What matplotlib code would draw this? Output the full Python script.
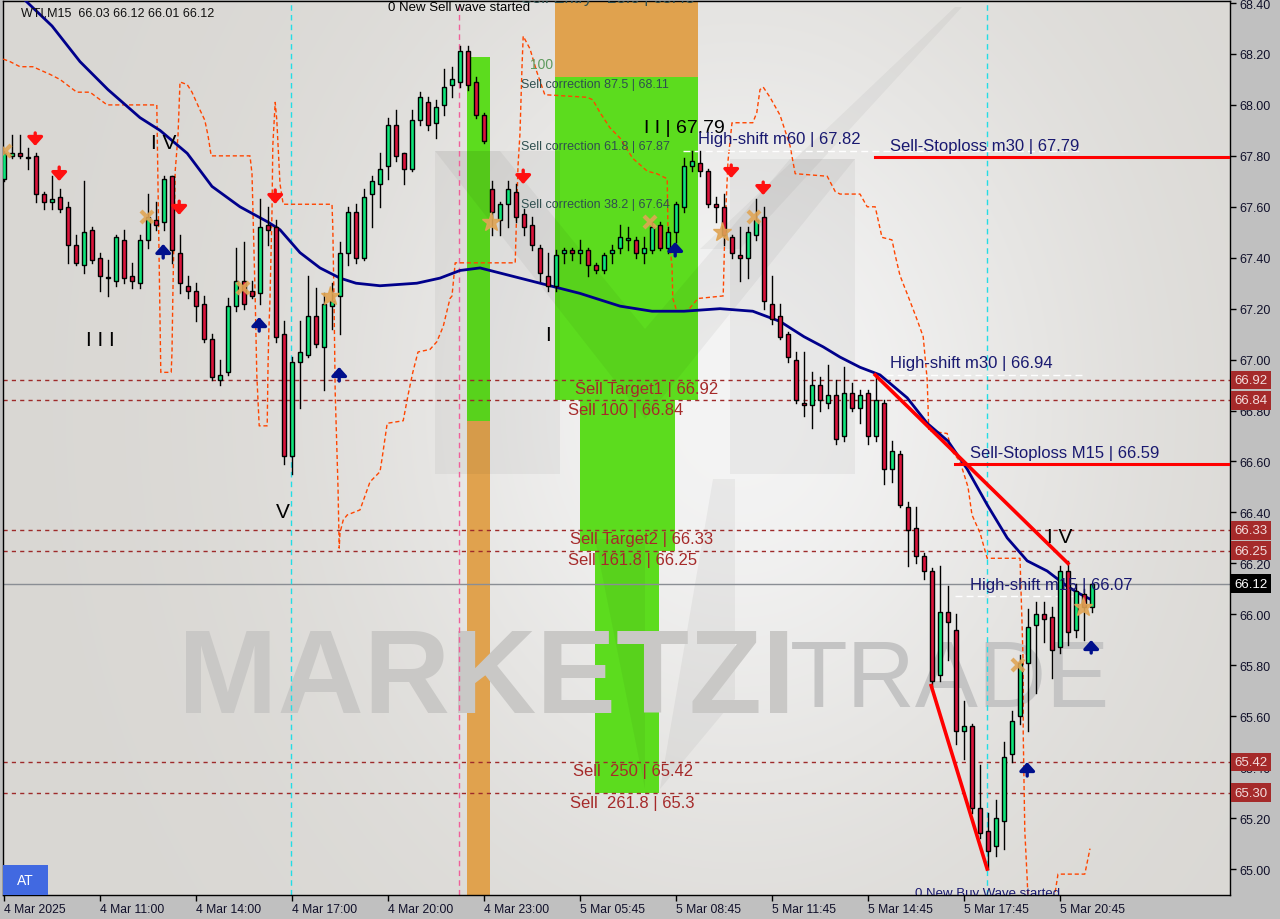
import numpy as np
import matplotlib
matplotlib.use('Agg')
import matplotlib.pyplot as plt
from matplotlib.patches import Rectangle, Polygon
import matplotlib.transforms as mtransforms

# ---------------- data ----------------
opens = [67.71, 67.80, 67.81, 67.79, 67.80, 67.65, 67.62, 67.64, 67.60, 67.45,
         67.37, 67.51, 67.40, 67.32, 67.31, 67.47, 67.33, 67.30, 67.47, 67.55,
         67.54, 67.72, 67.42, 67.29, 67.27, 67.22, 67.08, 66.92, 66.95, 67.21,
         67.31, 67.27, 67.26, 67.53, 67.52, 67.10, 66.62, 66.99, 67.02, 67.17,
         67.05, 67.21, 67.25, 67.42, 67.58, 67.40, 67.65, 67.69, 67.76, 67.92,
         67.81, 67.75, 67.94, 68.01, 67.93, 68.00, 68.08, 68.09, 68.21, 68.09,
         67.96, 67.67, 67.55, 67.61, 67.66, 67.57, 67.53, 67.44, 67.33, 67.29,
         67.42, 67.43, 67.42, 67.43, 67.37, 67.35, 67.42, 67.44, 67.47, 67.47,
         67.42, 67.43, 67.53, 67.44, 67.50, 67.60, 67.76, 67.77, 67.74, 67.61,
         67.60, 67.48, 67.41, 67.40, 67.49, 67.56, 67.22, 67.17, 67.10, 67.00,
         66.83, 66.82, 66.90, 66.83, 66.86, 66.70, 66.87, 66.81, 66.87, 66.70,
         66.83, 66.57, 66.63, 66.42, 66.34, 66.23, 66.17, 65.76, 66.01, 65.94,
         65.54, 65.56, 65.24, 65.15, 65.09, 65.19, 65.45, 65.60, 65.81, 65.96,
         66.00, 65.99, 65.87, 66.17, 65.94, 66.08, 66.03]
highs = [67.82, 67.88, 67.88, 67.83, 67.81, 67.66, 67.72, 67.67, 67.62, 67.49,
         67.70, 67.52, 67.42, 67.39, 67.49, 67.51, 67.38, 67.49, 67.65, 67.62,
         67.72, 67.72, 67.49, 67.33, 67.30, 67.25, 67.10, 67.00, 67.24, 67.44,
         67.46, 67.31, 67.63, 67.60, 67.55, 67.15, 67.01, 67.15, 67.33, 67.28,
         67.26, 67.30, 67.46, 67.60, 67.61, 67.67, 67.72, 67.81, 67.95, 67.98,
         67.81, 67.98, 68.05, 68.03, 68.02, 68.14, 68.15, 68.23, 68.23, 68.11,
         67.97, 67.70, 67.62, 67.70, 67.69, 67.59, 67.56, 67.45, 67.42, 67.43,
         67.44, 67.44, 67.47, 67.44, 67.38, 67.42, 67.45, 67.53, 67.52, 67.48,
         67.48, 67.54, 67.54, 67.52, 67.62, 67.79, 67.82, 67.82, 67.75, 67.64,
         67.65, 67.49, 67.52, 67.52, 67.63, 67.60, 67.33, 67.22, 67.11, 67.03,
         67.03, 66.95, 66.93, 66.98, 66.92, 66.97, 66.91, 66.88, 66.88, 66.94,
         66.84, 66.68, 66.64, 66.44, 66.42, 66.24, 66.18, 66.19, 66.11, 66.00,
         65.66, 65.57, 65.41, 65.22, 65.27, 65.50, 65.62, 65.84, 66.02, 66.05,
         66.05, 66.03, 66.19, 66.21, 66.12, 66.10, 66.12]
lows = [67.70, 67.79, 67.79, 67.75, 67.62, 67.59, 67.59, 67.58, 67.38, 67.37,
        67.34, 67.38, 67.27, 67.25, 67.29, 67.30, 67.28, 67.28, 67.44, 67.51,
        67.51, 67.38, 67.26, 67.24, 67.15, 67.07, 66.92, 66.90, 66.94, 67.19,
        67.20, 67.24, 67.22, 67.45, 67.07, 66.59, 66.55, 66.81, 67.01, 67.05,
        66.88, 67.12, 67.10, 67.37, 67.38, 67.39, 67.52, 67.60, 67.71, 67.78,
        67.69, 67.74, 67.92, 67.90, 67.87, 67.96, 68.03, 68.07, 68.06, 67.95,
        67.85, 67.49, 67.49, 67.52, 67.54, 67.49, 67.43, 67.31, 67.27, 67.27,
        67.38, 67.39, 67.38, 67.33, 67.34, 67.34, 67.38, 67.42, 67.43, 67.40,
        67.38, 67.42, 67.43, 67.42, 67.46, 67.58, 67.74, 67.72, 67.60, 67.54,
        67.45, 67.40, 67.31, 67.32, 67.47, 67.20, 67.14, 67.08, 66.99, 66.83,
        66.78, 66.73, 66.80, 66.81, 66.67, 66.68, 66.80, 66.75, 66.67, 66.68,
        66.51, 66.52, 66.42, 66.19, 66.20, 66.14, 65.72, 65.74, 65.82, 65.49,
        65.43, 65.22, 65.12, 65.00, 65.05, 65.08, 65.42, 65.57, 65.54, 65.69,
        65.89, 65.75, 65.85, 65.88, 65.91, 65.90, 66.01]
closes = [67.81, 67.81, 67.80, 67.79, 67.65, 67.62, 67.63, 67.59, 67.45, 67.38,
          67.50, 67.39, 67.33, 67.32, 67.48, 67.32, 67.31, 67.47, 67.56, 67.53,
          67.71, 67.43, 67.30, 67.27, 67.21, 67.08, 66.93, 66.94, 67.21, 67.31,
          67.22, 67.25, 67.52, 67.51, 67.09, 66.62, 66.99, 67.03, 67.17, 67.06,
          67.22, 67.23, 67.42, 67.58, 67.40, 67.64, 67.70, 67.75, 67.92, 67.80,
          67.75, 67.94, 68.03, 67.92, 67.99, 68.07, 68.10, 68.21, 68.08, 67.96,
          67.86, 67.58, 67.61, 67.67, 67.56, 67.52, 67.45, 67.34, 67.29, 67.41,
          67.43, 67.42, 67.43, 67.37, 67.35, 67.41, 67.43, 67.48, 67.47, 67.42,
          67.44, 67.52, 67.44, 67.50, 67.61, 67.76, 67.78, 67.74, 67.61, 67.60,
          67.49, 67.42, 67.40, 67.50, 67.55, 67.23, 67.16, 67.09, 67.01, 66.84,
          66.82, 66.90, 66.84, 66.86, 66.69, 66.87, 66.81, 66.86, 66.70, 66.84,
          66.57, 66.64, 66.43, 66.33, 66.23, 66.17, 65.74, 66.01, 65.97, 65.54,
          65.56, 65.24, 65.14, 65.07, 65.20, 65.44, 65.58, 65.81, 65.95, 66.00,
          65.98, 65.86, 66.17, 65.93, 66.09, 66.03, 66.12]

time_tick_bars = [0, 12, 24, 36, 48, 60, 72, 84, 96, 108, 120, 132]
time_tick_labels = ["4 Mar 2025", "4 Mar 11:00", "4 Mar 14:00", "4 Mar 17:00",
                    "4 Mar 20:00", "4 Mar 23:00", "5 Mar 05:45", "5 Mar 08:45",
                    "5 Mar 11:45", "5 Mar 14:45", "5 Mar 17:45", "5 Mar 20:45"]
price_ticks = [65.00, 65.20, 65.40, 65.60, 65.80, 66.00, 66.20, 66.40, 66.60,
               66.80, 67.00, 67.20, 67.40, 67.60, 67.80, 68.00, 68.20, 68.40]

ma_bars = [0, 3, 6, 9.5, 13, 17, 19.5, 22.9, 26, 29.5, 33, 34.5, 37, 39.5, 42, 44,
           47, 51.6, 54.5, 57, 59.5, 62, 64.5, 67, 69.5, 72, 74, 77, 81, 85, 89.5,
           93.6, 97, 100, 102.4, 104.5, 107, 109.5, 112.9, 115.4, 118, 120.4,
           122.9, 125.4, 127.9, 130.4, 132.9, 134.5, 135.75]
ma_prices = [68.49, 68.40, 68.31, 68.17, 68.06, 67.95, 67.90, 67.81, 67.68, 67.60,
             67.54, 67.51, 67.42, 67.36, 67.32, 67.30, 67.29, 67.30, 67.32, 67.35,
             67.36, 67.34, 67.32, 67.30, 67.28, 67.26, 67.24, 67.21, 67.19, 67.19,
             67.20, 67.19, 67.15, 67.09, 67.05, 67.01, 66.97, 66.94, 66.85, 66.75,
             66.68, 66.57, 66.43, 66.30, 66.21, 66.17, 66.11, 66.08, 66.06]

orange_bars = [-0.1, 0.75, 2, 3.6, 5.75, 7, 8.25, 9.1, 10.75, 11.6, 12.9, 19.1,
               19.6, 20.9, 21.0, 21.1, 21.4, 21.75, 22, 22.9, 23.5, 24.5, 25.1,
               25.5, 25.9, 30.75, 31, 31.4, 31.6, 31.9, 32.9, 33, 33.1, 33.25,
               33.5, 33.6, 33.9, 34.1, 34.5, 34.9, 41, 41.1, 41.25, 41.4, 41.75,
               41.9, 42, 42.4, 42.9, 44.5, 45.75, 47, 47.25, 47.9, 49.9, 50.5,
               51.1, 51.75, 53.25, 54.1, 54.9, 55.75, 56, 56.4, 63.9, 64.25, 64.5,
               64.75, 64.9, 65.75, 66.6, 67.6, 72.9, 73.6, 74.5, 75.75, 77, 78.6,
               80.4, 81.6, 82.9, 83, 83.5, 83.6, 84.1, 85.4, 86.75, 89.9, 90.1,
               90.5, 91, 93.6, 94.1, 94.5, 94.9, 95.75, 97, 98.25, 98.9, 102.9,
               103.9, 104.5, 107, 107.9, 108.9, 109.75, 111, 111.4, 112, 113,
               114.1, 114.9, 115.4, 115.6, 117.9, 118.5, 119.5, 120.5, 121, 122,
               122.9, 127, 127.25, 127.4, 127.4, 127.6, 127.9, 128,
               np.nan, 131.4, 131.75, 135.1, 135.75]
orange_prices = [68.18, 68.17, 68.15, 68.15, 68.12, 68.10, 68.07, 68.05, 68.05,
                 68.03, 68.00, 68.00, 66.95, 66.95, 67.03, 67.24, 67.74, 67.88,
                 68.09, 68.08, 68.05, 67.98, 67.94, 67.88, 67.80, 67.80, 67.73,
                 67.24, 66.94, 66.74, 66.74, 66.97, 67.11, 67.24, 67.58, 67.84,
                 68.01, 67.94, 67.69, 67.61, 67.61, 67.52, 67.24, 66.87, 66.50,
                 66.26, 66.32, 66.37, 66.39, 66.41, 66.52, 66.56, 66.61, 66.75,
                 66.76, 66.86, 66.95, 67.03, 67.04, 67.07, 67.13, 67.24, 67.25,
                 67.38, 67.38, 67.76, 67.89, 68.15, 68.27, 68.22, 68.13, 68.04,
                 68.03, 68.02, 67.97, 67.91, 67.87, 67.79, 67.74, 67.73, 67.71,
                 67.50, 67.37, 67.24, 67.19, 67.19, 67.24, 67.25, 67.50, 67.78,
                 67.93, 67.93, 67.97, 68.06, 68.07, 68.03, 67.96, 67.84, 67.73,
                 67.72, 67.66, 67.65, 67.65, 67.60, 67.60, 67.48, 67.47, 67.41,
                 67.33, 67.25, 67.16, 67.09, 66.92, 66.72, 66.71, 66.64, 66.60,
                 66.50, 66.39, 66.32, 66.22, 66.22, 65.97, 65.80, 65.54, 65.15,
                 64.96, 64.88, np.nan, 64.91, 64.98, 64.98, 65.08]

level_prices = [66.92, 66.84, 66.33, 66.25, 65.42, 65.30]
level_labels = ["66.92", "66.84", "66.33", "66.25", "65.42", "65.30"]
current_price = 66.12

# zones: (bar_left, bar_right, price_low, price_high)
green_zones = [(57.9, 60.75, 66.76, 68.19), (68.9, 86.75, 66.84, 68.11),
               (72.0, 83.9, 66.25, 66.84), (73.9, 81.9, 65.30, 66.25)]
orange_zones = [(57.9, 60.75, 64.80, 66.76), (68.9, 86.75, 68.11, 68.60)]

red_arrow_bars = [3.9, 6.9, 21.9, 33.9, 64.9, 90.9, 94.9]
red_arrow_top = [67.89, 67.756, 67.622, 67.666, 67.744, 67.764, 67.697]
red_arrow_tip = [67.839, 67.701, 67.568, 67.611, 67.689, 67.713, 67.646]
blue_arrow_bars = [19.9, 31.9, 41.9, 83.9, 127.9, 135.9]
blue_arrow_tip = [67.454, 67.167, 66.971, 67.462, 65.420, 65.899]
blue_arrow_tail = [67.399, 67.112, 66.916, 67.407, 65.365, 65.848]

star_bars = [0.1, 17.9, 29.9, 40.75, 60.9, 80.75, 89.75, 93.75, 126.75, 134.9]
star_prices = [67.82, 67.56, 67.28, 67.25, 67.54, 67.54, 67.50, 67.56, 65.80, 66.03]
star_kind = ['x', 'x', 'x', '*', '*', 'x', '*', 'x', 'x', '*']

# ---------------- figure ----------------
BG = '#c0c0c0'
fig = plt.figure(figsize=(12.8, 9.2), dpi=100, facecolor=BG)
ax = fig.add_axes([3/1280, 24/920, 1227/1280, 894/920])
XL = (-0.125, 153.25)
YL = (64.898, 68.408)

# background gradient
gx = np.linspace(0, 1, 300)
gy = np.linspace(0, 1, 220)
GX, GY = np.meshgrid(gx, gy)
bump = np.exp(-(((GX - 0.60) / 0.30) ** 2 + ((GY - 0.55) / 0.50) ** 2))
base = np.array([217, 215, 211]) / 255.0
light = np.array([244, 244, 244]) / 255.0
img = base[None, None, :] + (light - base)[None, None, :] * bump[:, :, None]
ax.imshow(img, extent=[XL[0], XL[1], YL[0], YL[1]], origin='lower',
          aspect='auto', zorder=0, interpolation='bilinear')

# zones
for (b0, b1, p0, p1) in green_zones:
    ax.add_patch(Rectangle((b0, p0), b1 - b0, p1 - p0, facecolor='#5cdc1e',
                           edgecolor='none', zorder=1))
for (b0, b1, p0, p1) in orange_zones:
    ax.add_patch(Rectangle((b0, p0), b1 - b0, p1 - p0, facecolor='#e0a24e',
                           edgecolor='none', zorder=1))

# logo watermark (decorative, axes fraction)
def axpt(px, py):
    return ((px - 3) / 1227.0, (896 - py) / 894.0)

logo_shapes = [
    [(435, 152), (560, 152), (560, 475), (435, 475)],
    [(730, 160), (855, 160), (855, 475), (730, 475)],
    [(435, 152), (500, 152), (645, 330), (790, 160), (855, 160), (645, 420)],
    [(595, 540), (645, 540), (645, 790)],
    [(713, 480), (735, 480), (735, 700), (660, 790)],
]
for shp in logo_shapes:
    ax.add_patch(Polygon([axpt(*p) for p in shp], closed=True, facecolor='black',
                         alpha=0.045, edgecolor='none', transform=ax.transAxes,
                         zorder=1.5))
ax.add_patch(Polygon([axpt(*p) for p in [(955, 8), (700, 250), (740, 250), (962, 8)]],
                     closed=True, facecolor='black', alpha=0.04, edgecolor='none',
                     transform=ax.transAxes, zorder=1.5))

# watermark text
ax.text(0.1426, 0.239, "MARKETZI", transform=ax.transAxes, fontsize=86,
        family='Liberation Sans', fontweight='bold', color='#c9c8c6',
        va='center', ha='left', zorder=1.6)
ax.text(0.641, 0.239, "TRADE", transform=ax.transAxes, fontsize=68,
        family=['Liberation Sans Narrow', 'Liberation Sans'], fontweight='normal',
        color='#c4c4c4', va='center', ha='left', zorder=1.6)

# horizontal dashed levels
for p in level_prices:
    ax.axhline(p, color='#9e2a2a', lw=1.0, ls=(0, (3, 3)), zorder=2)
ax.axhline(current_price, color='#8a8e94', lw=1.0, zorder=2)

# vertical separators
ax.axvline(35.9, color='#22dde6', lw=1.0, ls=(0, (4, 3)), zorder=2)
ax.axvline(122.9, color='#22dde6', lw=1.0, ls=(0, (4, 3)), zorder=2)
ax.axvline(56.9, color='#f0609a', lw=1.0, ls=(0, (4, 3)), zorder=2)

# orange dashed trailing line
ax.plot(orange_bars, orange_prices, color='#ff4500', lw=1.0, ls=(0, (3, 2)), zorder=3)

# white dashed high-shift lines
ax.plot([84.9, 134.75], [67.82, 67.82], color='white', lw=1.0, ls=(0, (5, 3)), zorder=3)
ax.plot([108.9, 134.75], [66.94, 66.94], color='white', lw=1.0, ls=(0, (5, 3)), zorder=3)
ax.plot([118.9, 133.6], [66.07, 66.07], color='white', lw=1.0, ls=(0, (5, 3)), zorder=3)

# moving average
ax.plot(ma_bars, ma_prices, color='#00008b', lw=2.0, zorder=4)

# candles
w = 0.62
for i, (o, h, l, c) in enumerate(zip(opens, highs, lows, closes)):
    ax.plot([i, i], [l, h], color='black', lw=1.0, zorder=5)
    col = '#0fe67a' if c >= o else '#dc143c'
    lo, hi = min(o, c), max(o, c)
    if hi - lo < 0.006:
        hi = lo + 0.006
    ax.add_patch(Rectangle((i - w / 2, lo), w, hi - lo, facecolor=col,
                           edgecolor='black', lw=1.0, zorder=6))

# red stoploss lines and trend lines
ax.plot([108.9, XL[1]], [67.795, 67.795], color='red', lw=2.2, zorder=7)
ax.plot([118.9, XL[1]], [66.59, 66.59], color='red', lw=2.2, zorder=7)
ax.plot([108.9, 133.0], [66.94, 66.20], color='red', lw=2.6, zorder=7)
ax.plot([115.9, 122.9], [65.72, 65.00], color='red', lw=2.6, zorder=7)

# arrows
for b, t, p in zip(red_arrow_bars, red_arrow_top, red_arrow_tip):
    ax.annotate('', xy=(b, p), xytext=(b, t),
                arrowprops=dict(arrowstyle='-|>,head_width=0.45,head_length=0.5',
                                color='#ff1010', lw=2.4, shrinkA=0, shrinkB=0,
                                mutation_scale=10), zorder=8)
for b, p, t in zip(blue_arrow_bars, blue_arrow_tip, blue_arrow_tail):
    ax.annotate('', xy=(b, p), xytext=(b, t),
                arrowprops=dict(arrowstyle='-|>,head_width=0.45,head_length=0.5',
                                color='#00108c', lw=2.4, shrinkA=0, shrinkB=0,
                                mutation_scale=10), zorder=8)

# stars / crosses
for b, p, k in zip(star_bars, star_prices, star_kind):
    if k == '*':
        ax.plot(b, p, marker='*', ms=14, color='#e0a555', mec='#e0a555',
                alpha=0.9, zorder=8)
    else:
        ax.plot(b, p, marker='x', ms=9, mew=3, color='#e0a555', alpha=0.9, zorder=8)

# ---------------- texts ----------------
F = 'Liberation Sans'
ax.text(0.015, 0.987, "WTI,M15  66.03 66.12 66.01 66.12", transform=ax.transAxes,
        fontsize=9, family=F, color='#111111', va='center', ha='left', zorder=9)
ax.text(48.0, 68.385, "0 New Sell wave started", fontsize=9.5, family=F,
        color='black', va='center', ha='left', zorder=9)
ax.text(64.6, 68.42, "Sell Entry - 23.6 | 68.48", fontsize=12, family=F,
        color='#2f4f4f', va='center', ha='left', zorder=9, clip_on=True)
ax.text(65.75, 68.16, "100", fontsize=10, family=F, color='#5e9a5e',
        va='center', ha='left', zorder=9)
for txt, p in [("Sell correction 87.5 | 68.11", 68.082),
               ("Sell correction 61.8 | 67.87", 67.839),
               ("Sell correction 38.2 | 67.64", 67.611)]:
    ax.text(64.6, p, txt, fontsize=9, family=F, color='#2f4f4f',
            va='center', ha='left', zorder=9)
ax.text(80.0, 67.913, "I I | 67.79", fontsize=14, family=F, color='black',
        va='center', ha='left', zorder=9)
navy = '#191970'
ax.text(86.75, 67.87, "High-shift m60 | 67.82", fontsize=12, family=F, color=navy,
        va='center', ha='left', zorder=9)
ax.text(110.75, 67.839, "Sell-Stoploss m30 | 67.79", fontsize=12, family=F, color=navy,
        va='center', ha='left', zorder=9)
ax.text(110.75, 66.987, "High-shift m30 | 66.94", fontsize=12, family=F, color=navy,
        va='center', ha='left', zorder=9)
ax.text(120.75, 66.637, "Sell-Stoploss M15 | 66.59", fontsize=12, family=F, color=navy,
        va='center', ha='left', zorder=9)
ax.text(120.75, 66.119, "High-shift m15 | 66.07", fontsize=12, family=F, color=navy,
        va='center', ha='left', zorder=9)
ax.text(113.9, 64.905, "0 New Buy Wave started", fontsize=9.5, family=F, color=navy,
        va='center', ha='left', zorder=9, clip_on=True)

for txt, b, p in [("I V", 20.0, 67.854), ("I I I", 12.0, 67.08), ("V", 34.9, 66.405),
                  ("I", 68.0, 67.10), ("I V", 131.9, 66.307)]:
    ax.text(b, p, txt, fontsize=15, family=F, color='black', va='center',
            ha='center', zorder=9)

brown = '#a52a2a'
for txt, b, p in [("Sell Target1 | 66.92", 71.4, 66.888),
                  ("Sell 100 | 66.84", 70.5, 66.806),
                  ("Sell Target2 | 66.33", 70.75, 66.296),
                  ("Sell 161.8 | 66.25", 70.5, 66.217),
                  ("Sell  250 | 65.42", 71.1, 65.385),
                  ("Sell  261.8 | 65.3", 70.75, 65.263)]:
    ax.text(b, p, txt, fontsize=12, family=F, color=brown, va='center',
            ha='left', zorder=9)

# AT box
ax.add_patch(Rectangle((0, 0), 45 / 1227, 30 / 894, transform=ax.transAxes,
                       facecolor='#4169e1', edgecolor='none', zorder=9))
ax.text(22 / 1227, 15 / 894, "AT", transform=ax.transAxes, fontsize=10, family=F,
        color='white', va='center', ha='center', zorder=10)

# ---------------- axes ----------------
ax.set_xlim(*XL)
ax.set_ylim(*YL)
ax.yaxis.tick_right()
ax.set_yticks(price_ticks)
ax.set_yticklabels([f"{p:.2f}" for p in price_ticks])
ax.set_xticks(time_tick_bars)
ax.set_xticklabels(time_tick_labels)
for lab in ax.get_xticklabels():
    lab.set_ha('left')
ax.tick_params(axis='y', direction='out', length=4, width=1, pad=3,
               labelsize=9, labelcolor='#10102a', right=True, left=False)
ax.tick_params(axis='x', direction='out', length=4, width=1, pad=2,
               labelsize=8.7, labelcolor='#10102a')
for lab in ax.get_yticklabels() + ax.get_xticklabels():
    lab.set_family(F)
for s in ax.spines.values():
    s.set_color('black')
    s.set_linewidth(1.0)

# right axis price boxes
trans = mtransforms.blended_transform_factory(ax.transAxes, ax.transData)
for p, lab in zip(level_prices, level_labels):
    ax.text(1.0035, p, lab, transform=trans, fontsize=9.5, family=F, color='#f3dcdc',
            va='center', ha='left', zorder=20, clip_on=False,
            bbox=dict(boxstyle='square,pad=0.25', facecolor='#a52a2a', edgecolor='none'))
ax.text(1.0035, current_price, "66.12", transform=trans, fontsize=9.5, family=F,
        color='white', va='center', ha='left', zorder=20, clip_on=False,
        bbox=dict(boxstyle='square,pad=0.25', facecolor='black', edgecolor='none'))

fig.savefig('out.png', dpi=100, facecolor=BG)
